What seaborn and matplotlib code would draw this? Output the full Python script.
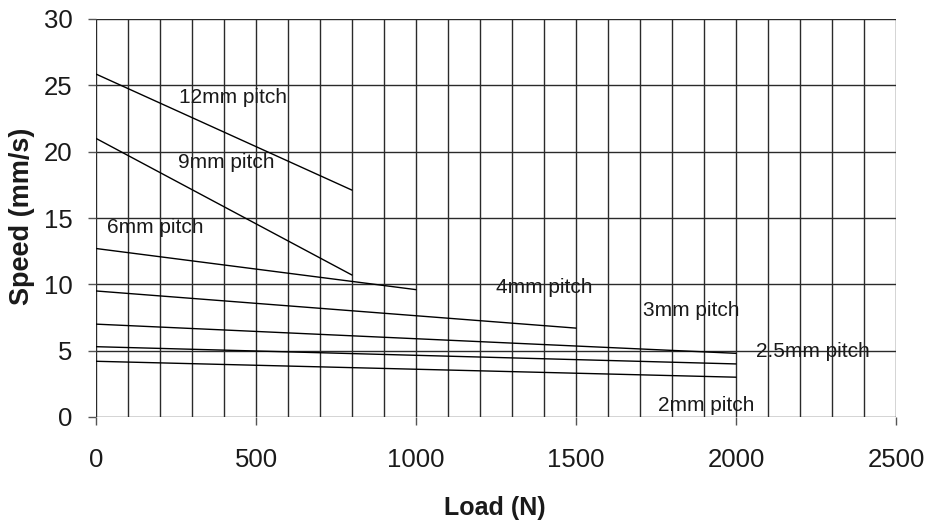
import numpy as np
import pandas as pd
import matplotlib
matplotlib.use("Agg")
import matplotlib.pyplot as plt
import seaborn as sns

pitches = ["12mm pitch", "9mm pitch", "6mm pitch", "4mm pitch", "3mm pitch", "2.5mm pitch", "2mm pitch"]
load_start = [0, 0, 0, 0, 0, 0, 0]
load_end = [800, 800, 1000, 1500, 2000, 2000, 2000]
speed_start = [25.85, 21.0, 12.7, 9.5, 7.0, 5.3, 4.2]
speed_end = [17.1, 10.7, 9.6, 6.7, 4.8, 4.0, 3.0]
label_x = [259, 257, 34, 1251, 1709, 2064, 1756]
label_y = [23.66, 18.76, 13.87, 9.34, 7.63, 4.52, 0.42]

rows = []
for p, x0, x1, y0, y1 in zip(pitches, load_start, load_end, speed_start, speed_end):
    rows.append({"pitch": p, "load": x0, "speed": y0})
    rows.append({"pitch": p, "load": x1, "speed": y1})
df = pd.DataFrame(rows)

sns.set_style("white")
plt.rcParams["font.family"] = ["Liberation Sans", "DejaVu Sans"]

fig = plt.figure(figsize=(9.27, 5.29), dpi=100)
ax = fig.add_axes([96/927, 1-417/529, 800/927, 398/529])

for v in range(0, 2501, 100):
    ax.axvline(v, color="#2a2a2a", lw=1.0, zorder=0)
for h in range(0, 31, 5):
    ax.axhline(h, color="#2a2a2a", lw=1.0, zorder=0)

sns.lineplot(data=df, x="load", y="speed", units="pitch", estimator=None,
             color="black", lw=1.0, ax=ax, legend=False)

for t, x, y in zip(pitches, label_x, label_y):
    ax.text(x, y, t, fontsize=15, ha="left", va="baseline", color="#1a1a1a")

ax.set_xlim(0, 2500)
ax.set_ylim(0, 30)
ax.set_xticks(range(0, 2501, 500))
ax.set_yticks(range(0, 31, 5))
ax.tick_params(axis="both", labelsize=18.5, direction="out", length=6, width=1,
               colors="#555555", labelcolor="#1a1a1a", left=True, bottom=True)
ax.tick_params(axis="x", pad=16)
ax.tick_params(axis="y", pad=11)
for s in ax.spines.values():
    s.set_visible(False)
ax.set_xlabel("Load (N)", fontsize=18, fontweight="bold", color="#1a1a1a")
ax.set_ylabel("Speed (mm/s)", fontsize=19.5, fontweight="bold", color="#1a1a1a")
ax.xaxis.set_label_coords(0.499, -0.198)
ax.yaxis.set_label_coords(-0.076, 0.505)

fig.savefig("out.png", dpi=100)
